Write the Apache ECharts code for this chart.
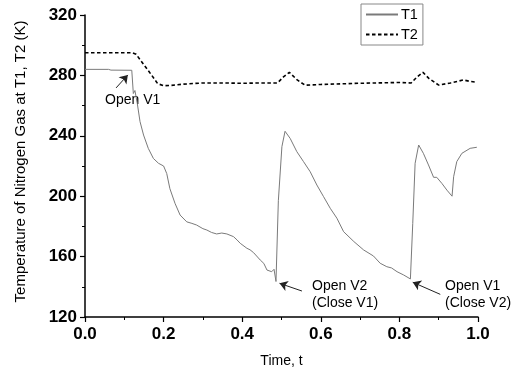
<!DOCTYPE html>
<html>
<head>
<meta charset="utf-8">
<script src="https://cdn.jsdelivr.net/npm/echarts@6/dist/echarts.min.js"></script>
<style>
  html, body { margin: 0; padding: 0; background: #fff; }
  #chart { width: 516px; height: 373px; }
</style>
</head>
<body>
<div id="chart"></div>
<script>
// time (t) and temperature (K)
const t1Time = [0, 0.06, 0.066, 0.119, 0.123, 0.127, 0.133, 0.14, 0.149, 0.161, 0.174, 0.187, 0.2, 0.208,
  0.216, 0.229, 0.242, 0.259, 0.272, 0.284, 0.3, 0.31, 0.322, 0.335, 0.348, 0.361, 0.378, 0.387, 0.395,
  0.412, 0.42, 0.429, 0.446, 0.455, 0.463, 0.475, 0.481, 0.486, 0.492, 0.501, 0.509, 0.522, 0.539, 0.556,
  0.573, 0.59, 0.607, 0.624, 0.641, 0.658, 0.684, 0.709, 0.734, 0.751, 0.768, 0.78, 0.794, 0.811, 0.828,
  0.834, 0.84, 0.849, 0.861, 0.874, 0.887, 0.895, 0.908, 0.921, 0.934, 0.938, 0.946, 0.959, 0.98, 0.997];
const t1Temp = [284, 284, 283.5, 283.4, 268, 270, 261.5, 249.4, 240.5, 231.7, 225, 221.8, 220, 215,
  205, 195.3, 187.5, 183, 182, 180.9, 178.5, 177.6, 176, 175, 175.6, 175, 173.2, 171, 168.8,
  165.5, 164.5, 162.6, 157.7, 155.5, 151.1, 150, 151.6, 143.5, 197, 232.8, 243, 238.3, 229.5, 222.9,
  216.2, 207.4, 199.7, 192, 185.4, 176.5, 170, 164.4, 160.4, 155.6, 153.3, 152.5, 150, 147.8, 145.2,
  182, 221.8, 233.9, 228.4, 220.7, 212.5, 212.5, 208.5, 204, 200, 212.9, 222.9, 228.4, 231.7, 232.4];

const t2Time = [0, 0.12, 0.13, 0.15, 0.17, 0.185, 0.2, 0.22, 0.25, 0.3, 0.35, 0.4, 0.45, 0.49, 0.505,
  0.52, 0.54, 0.56, 0.6, 0.7, 0.8, 0.83, 0.845, 0.86, 0.875, 0.9, 0.93, 0.963, 0.98, 0.997];
const t2Temp = [295, 295, 294, 287, 280, 274.5, 273.2, 273.4, 274.2, 275, 275, 274.8, 275, 275, 279,
  282, 277, 273.5, 274, 274.8, 275.3, 275, 279, 282, 278, 273.6, 275, 277, 276, 275.5];

const yTicks = [120, 160, 200, 240, 280, 320];
const xTicks = [0.0, 0.2, 0.4, 0.6, 0.8, 1.0];

// annotation arrows: [fromT, fromK, toT, toK]
const arrows = [
  [0.079, 271.7, 0.109, 280.3],
  [0.552, 137.2, 0.495, 142.3],
  [0.904, 135.0, 0.834, 143.0]
];

const zip = (xs, ys) => xs.map((x, i) => [x, ys[i]]);

const chart = echarts.init(document.getElementById('chart'));

const axisCommon = {
  axisLine: { lineStyle: { color: '#000', width: 1.5 } },
  axisTick: { inside: false, length: 5, lineStyle: { color: '#000', width: 1.2 } },
  minorTick: { show: true, splitNumber: 2, length: 3, lineStyle: { color: '#000', width: 1 } },
  splitLine: { show: false },
  axisLabel: { color: '#000', fontFamily: 'Arial, Liberation Sans', fontWeight: 'bold', fontSize: 17 },
  nameTextStyle: { color: '#000', fontFamily: 'Arial, Liberation Sans', fontSize: 14 }
};

const annoText = (x, y, text) => ({
  type: 'text', left: x, top: y,
  style: { text, fill: '#000', font: '14px Arial, Liberation Sans', lineHeight: 17 }
});

chart.setOption({
  animation: false,
  backgroundColor: '#fff',
  grid: { left: 85, right: 38, top: 15, bottom: 56 },
  legend: {
    orient: 'vertical', left: 361, top: 4,
    padding: [3, 5, 3, 4], itemGap: 5,
    itemWidth: 32, itemHeight: 14,
    borderColor: '#888', borderWidth: 1,
    itemStyle: { opacity: 0 },
    textStyle: { color: '#000', fontFamily: 'Arial, Liberation Sans', fontSize: 14.5, padding: [0, 0, 0, -2] },
    data: ['T1', 'T2']
  },
  xAxis: Object.assign({}, axisCommon, {
    type: 'value', min: xTicks[0], max: xTicks[xTicks.length - 1], interval: 0.2,
    name: 'Time, t', nameLocation: 'middle', nameGap: 37,
    axisLabel: Object.assign({}, axisCommon.axisLabel, { margin: 9, formatter: v => v.toFixed(1) })
  }),
  yAxis: Object.assign({}, axisCommon, {
    type: 'value', min: yTicks[0], max: yTicks[yTicks.length - 1], interval: 40,
    name: 'Temperature of Nitrogen Gas at T1, T2 (K)', nameLocation: 'middle', nameGap: 57,
    nameTextStyle: Object.assign({}, axisCommon.nameTextStyle, { fontSize: 15, padding: [0, 0, 0, 9] }),
    axisLabel: Object.assign({}, axisCommon.axisLabel, { margin: 8 })
  }),
  series: [
    {
      name: 'T1', type: 'line', showSymbol: false, symbol: 'none',
      data: zip(t1Time, t1Temp),
      lineStyle: { color: '#7a7a7a', width: 1 },
      itemStyle: { color: '#7a7a7a' }
    },
    {
      name: 'T2', type: 'line', showSymbol: false, symbol: 'none',
      data: zip(t2Time, t2Temp),
      lineStyle: { color: '#000', width: 1.6, type: [3.5, 2.5] },
      itemStyle: { color: '#000' }
    },
    {
      // annotation arrows
      name: 'arrows', type: 'lines', coordinateSystem: 'cartesian2d',
      silent: true, z: 5,
      symbol: ['none', 'arrow'], symbolSize: 8,
      lineStyle: { color: '#222', width: 1, opacity: 1 },
      data: arrows.map(a => ({ coords: [[a[0], a[1]], [a[2], a[3]]] }))
    }
  ],
  graphic: [
    annoText(105, 92, 'Open V1'),
    annoText(312, 278, 'Open V2\n(Close V1)'),
    annoText(445, 278, 'Open V1\n(Close V2)')
  ]
});
</script>
</body>
</html>
